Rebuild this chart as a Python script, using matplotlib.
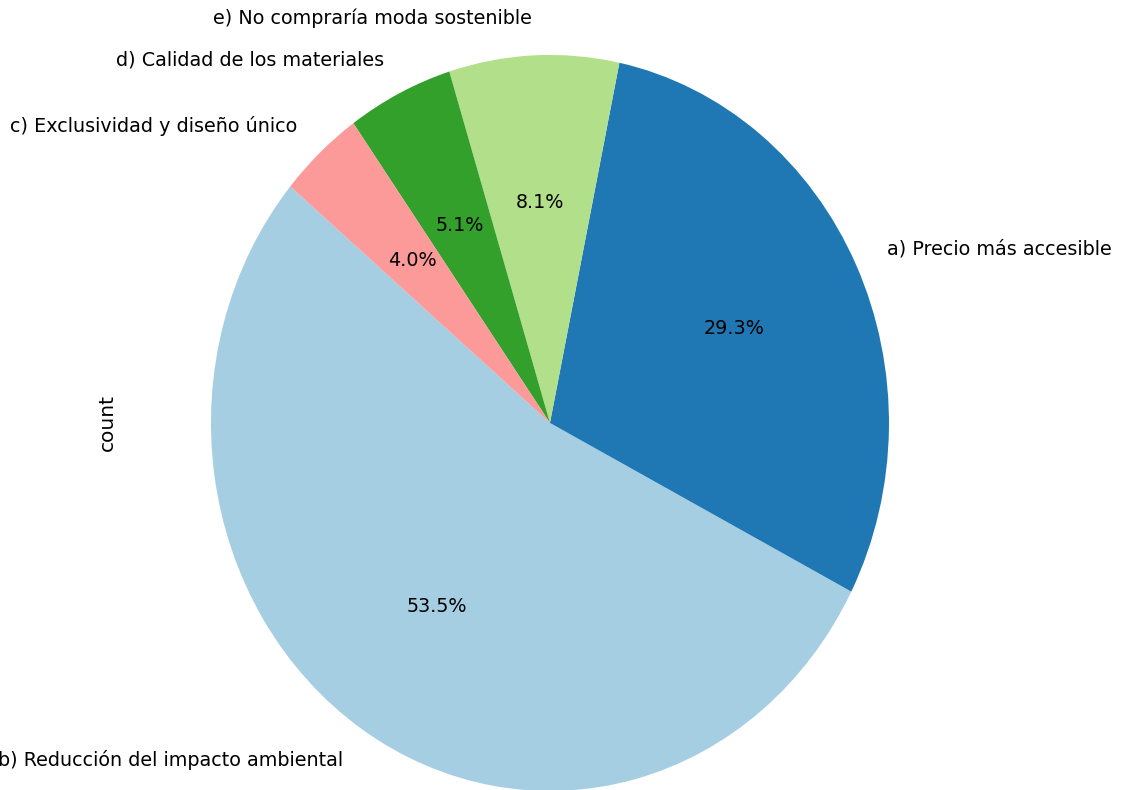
import numpy as np
import matplotlib
matplotlib.use("Agg")
import matplotlib.pyplot as plt

# respuestas ordenadas como value_counts()
labels = ["b) Reducción del impacto ambiental",
          "a) Precio más accesible",
          "e) No compraría moda sostenible",
          "d) Calidad de los materiales",
          "c) Exclusividad y diseño único"]
counts = [53, 29, 8, 5, 4]

colors = plt.get_cmap("Paired").colors[:len(counts)]

fig = plt.figure(figsize=(11.21, 7.9), dpi=100)
# pie center ~ (550, 423) px, rx ~ 339, ry ~ 368 (non equal aspect)
ax = fig.add_axes([0.1277, -0.0944, 0.7258, 1.118])
ax.pie(counts, labels=labels, colors=colors, autopct="%1.1f%%",
       startangle=140, textprops={"fontsize": 13.75})
ax.set_aspect("auto")
ax.set_xlim(-1.2, 1.2)
ax.set_ylim(-1.2, 1.2)
ax.set_xticks([])
ax.set_yticks([])
for s in ax.spines.values():
    s.set_visible(False)
ax.set_ylabel("count", fontsize=14.5)
ax.yaxis.set_label_coords(-0.032, 0.5)

fig.savefig("out.png", dpi=100)
